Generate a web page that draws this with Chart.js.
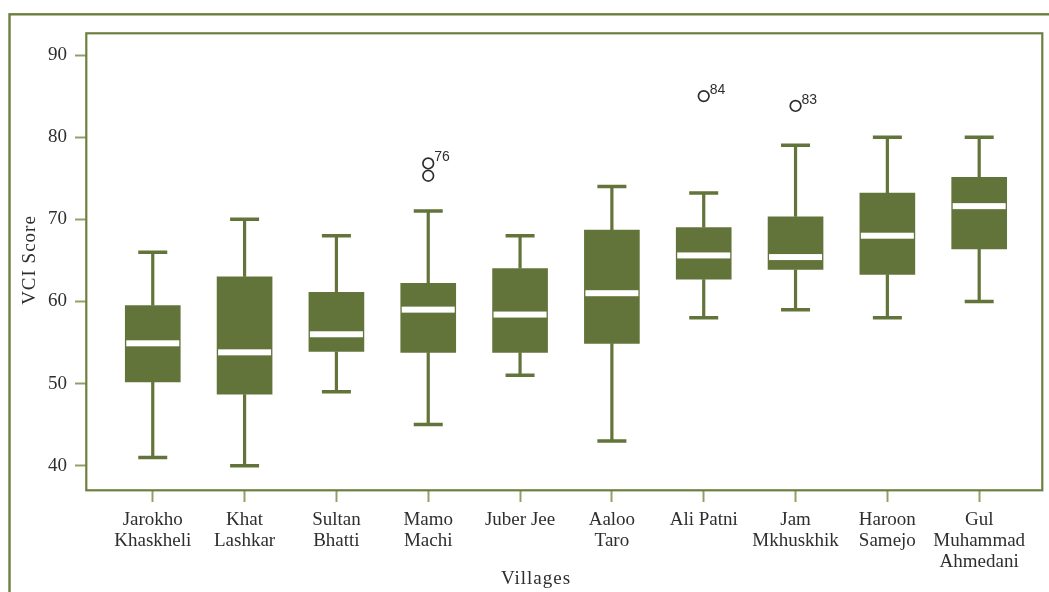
<!DOCTYPE html>
<html>
<head>
<meta charset="utf-8">
<script src="https://cdn.jsdelivr.net/npm/chart.js@4.4.0/dist/chart.umd.min.js"></script>
<style>
html, body { margin: 0; padding: 0; background: #fff; }
</style>
</head>
<body>
<canvas id="boxChart" width="1049" height="592"></canvas>
<script>
// villages on the x axis
const villages = [
    ['Jarokho', 'Khaskheli'], ['Khat', 'Lashkar'], ['Sultan', 'Bhatti'], ['Mamo', 'Machi'],
    'Juber Jee', ['Aaloo', 'Taro'], 'Ali Patni', ['Jam', 'Mkhuskhik'], ['Haroon', 'Samejo'],
    ['Gul', 'Muhammad', 'Ahmedani']
];

// VCI score box statistics
const whiskerLow  = [41, 40, 49, 45, 51, 43, 58, 59, 58, 60];
const q1          = [50.2, 48.7, 53.9, 53.8, 53.8, 54.9, 62.7, 63.9, 63.3, 66.4];
const median      = [54.9, 53.8, 56.0, 59.0, 58.4, 61.0, 65.6, 65.4, 68.0, 71.6];
const q3          = [59.5, 63.0, 61.1, 62.2, 64.0, 68.7, 69.0, 70.3, 73.2, 75.1];
const whiskerHigh = [66, 70, 68, 71, 68, 74, 73.2, 79, 80, 80];

// outliers (village index, value, case number)
const outlierVillage = [3, 3, 6, 7];
const outlierValue   = [76.8, 75.3, 85.0, 83.8];
const outlierCase    = ['76', '', '84', '83'];

const yTicks = [40, 50, 60, 70, 80, 90];

const boxColor = '#62743a';
const frameColor = '#6b7f3e';
const tickColor = '#8fa266';
const textColor = '#2e2e2e';
const serif = '"Liberation Serif", "Times New Roman", serif';

const boxParts = {
    id: 'boxParts',
    beforeDraw(chart) {
        const ctx = chart.ctx;
        ctx.save();
        ctx.strokeStyle = frameColor;
        ctx.lineWidth = 2.4;
        ctx.strokeRect(9.5, 14.3, 1200, 800);
        ctx.restore();
    },
    afterDatasetsDraw(chart) {
        const { ctx, chartArea, scales: { x, y } } = chart;
        ctx.save();
        ctx.strokeStyle = boxColor;
        whiskerLow.forEach((lo, i) => {
            const px = x.getPixelForValue(i);
            const yLo = y.getPixelForValue(lo);
            const yHi = y.getPixelForValue(whiskerHigh[i]);
            ctx.lineWidth = 3.2;
            ctx.beginPath();
            ctx.moveTo(px, y.getPixelForValue(q3[i]));
            ctx.lineTo(px, yHi);
            ctx.moveTo(px, y.getPixelForValue(q1[i]));
            ctx.lineTo(px, yLo);
            ctx.stroke();
            ctx.lineWidth = 3.5;
            ctx.beginPath();
            ctx.moveTo(px - 14.5, yHi);
            ctx.lineTo(px + 14.5, yHi);
            ctx.moveTo(px - 14.5, yLo);
            ctx.lineTo(px + 14.5, yLo);
            ctx.stroke();
            const ym = y.getPixelForValue(median[i]);
            ctx.fillStyle = '#ffffff';
            ctx.fillRect(px - 26.5, ym - 3, 53, 6);
        });

        // case numbers next to the outliers
        ctx.fillStyle = textColor;
        ctx.font = '14px "Liberation Sans", Arial, sans-serif';
        ctx.textAlign = 'left';
        ctx.textBaseline = 'middle';
        outlierValue.forEach((v, i) => {
            if (!outlierCase[i]) return;
            ctx.fillText(outlierCase[i], x.getPixelForValue(outlierVillage[i]) + 6, y.getPixelForValue(v) - 6);
        });

        // plot frame
        ctx.strokeStyle = frameColor;
        ctx.lineWidth = 2.2;
        ctx.strokeRect(chartArea.left + 0.3, chartArea.top + 0.3, chartArea.width, chartArea.height);

        // axis titles
        ctx.fillStyle = textColor;
        ctx.font = '19px ' + serif;
        ctx.textAlign = 'center';
        ctx.textBaseline = 'middle';
        ctx.letterSpacing = '1px';
        ctx.fillText('Villages', 536, 579);
        ctx.translate(30, 260);
        ctx.rotate(-Math.PI / 2);
        ctx.fillText('VCI Score', 0, 0);
        ctx.restore();
    }
};

const myChart = new Chart(document.getElementById('boxChart'), {
    type: 'bar',
    data: {
        datasets: [{
            label: 'VCI Score',
            data: q1.map((v, i) => ({ x: i, y: [v, q3[i]] })),
            backgroundColor: boxColor,
            borderWidth: 0,
            barThickness: 55
        }, {
            type: 'scatter',
            label: 'Outliers',
            data: outlierValue.map((v, i) => ({ x: outlierVillage[i], y: v })),
            pointStyle: 'circle',
            pointRadius: 5.3,
            backgroundColor: 'rgba(0,0,0,0)',
            borderColor: textColor,
            borderWidth: 1.7
        }]
    },
    options: {
        responsive: false,
        animation: false,
        layout: { padding: { left: 0, top: 33, right: 4, bottom: 0 } },
        plugins: {
            legend: { display: false },
            tooltip: { enabled: false }
        },
        scales: {
            x: {
                type: 'linear',
                offset: false,
                min: -0.727,
                max: 9.684,
                afterBuildTicks: s => { s.ticks = villages.map((_, i) => ({ value: i })); },
                afterFit: s => { s.height = 102; },
                ticks: {
                    callback: v => villages[v],
                    color: textColor,
                    font: { family: serif, size: 19, lineHeight: 1.12 },
                    padding: 7,
                    maxRotation: 0,
                    autoSkip: false
                },
                grid: { offset: false, drawOnChartArea: false, tickLength: 12, tickColor: tickColor, tickWidth: 2 },
                border: { display: false }
            },
            y: {
                min: 37.04,
                max: 92.68,
                afterBuildTicks: s => { s.ticks = yTicks.map(v => ({ value: v })); },
                afterFit: s => { s.width = 86; },
                ticks: {
                    color: textColor,
                    font: { family: serif, size: 19 },
                    padding: 8
                },
                grid: { drawOnChartArea: false, tickLength: 11, tickColor: tickColor, tickWidth: 2 },
                border: { display: false }
            }
        }
    },
    plugins: [boxParts]
});
</script>
</body>
</html>
